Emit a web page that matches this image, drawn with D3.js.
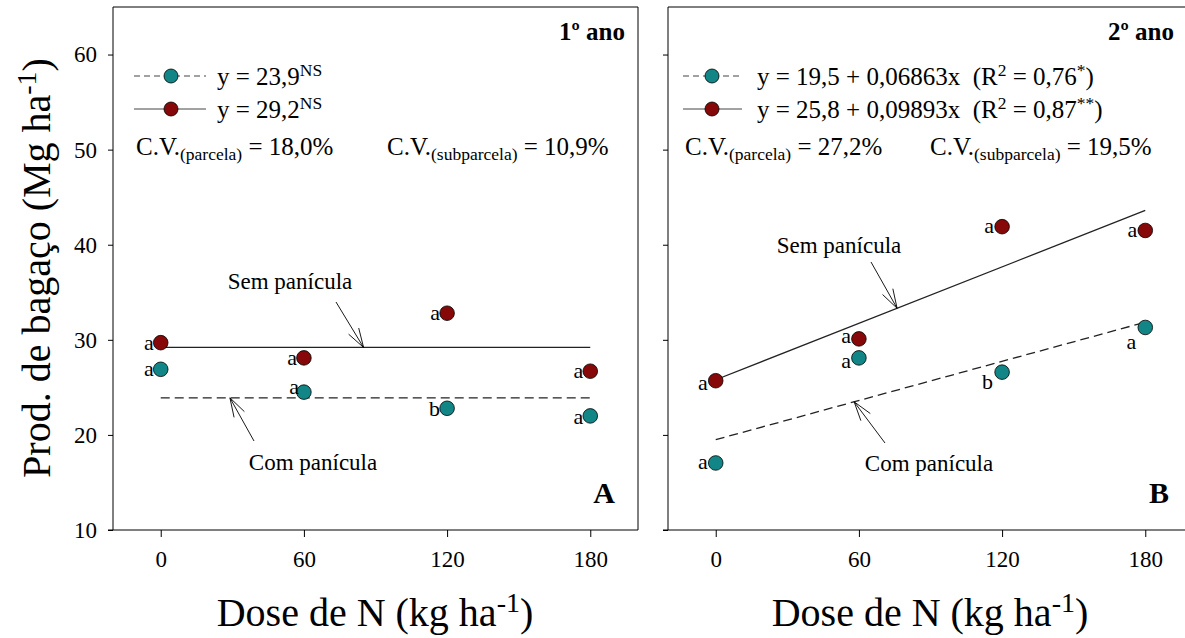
<!DOCTYPE html>
<html lang="pt">
<head>
<meta charset="utf-8">
<script src="https://cdn.jsdelivr.net/npm/d3@7"></script>
<style>
  body { margin: 0; background: #fff; }
  .axis path, .axis line { stroke: #000; stroke-width: 1; }
</style>
</head>
<body>
<div id="chart"></div>
<script>
// --- data ---
const doses = [0, 60, 120, 180]
const xTicks = [0, 60, 120, 180]
const yTicks = [10, 20, 30, 40, 50, 60]

// 1º ano
const semAno1 = [29.7, 28.1, 32.8, 26.7]
const comAno1 = [26.9, 24.5, 22.8, 22.0]
const semLetrasAno1 = ['a', 'a', 'a', 'a']
const comLetrasAno1 = ['a', 'a', 'b', 'a']
const fitSemAno1 = [29.2, 0]      // intercept, slope
const fitComAno1 = [23.9, 0]

// 2º ano
const semAno2 = [25.7, 30.1, 41.9, 41.5]
const comAno2 = [17.05, 28.1, 26.6, 31.3]
const semLetrasAno2 = ['a', 'a', 'a', 'a']
const comLetrasAno2 = ['a', 'a', 'b', 'a']
const fitSemAno2 = [25.8, 0.09893]
const fitComAno2 = [19.5, 0.06863]

const teal = '#128686'
const red = '#870808'
const serif = "'Liberation Serif'"

let w = 1185
let h = 638

let svg = d3.select('#chart').append('svg')
    .attr('width', w)
    .attr('height', h)
    .style('font-family', serif)

let yScale = d3.scaleLinear().domain([10, 65]).range([530, 7])

function addSup(textSel, parts) {
    // parts: [[text, 'n'|'sup'|'sub'], ...]
    parts.forEach(function(p) {
        let t = textSel.append('tspan').text(p[0])
        if (p[1] === 'sup') t.attr('baseline-shift', '50%').attr('font-size', '70%')
        if (p[1] === 'sub') t.attr('baseline-shift', '-30%').attr('font-size', '70%')
    })
}

function drawPanel(cfg) {
    let xScale = d3.scaleLinear().domain([-20, 200]).range([cfg.left, cfg.left + 525])
    let g = svg.append('g')

    // frame
    g.append('line').attr('x1', cfg.left).attr('x2', cfg.left + 525)
        .attr('y1', yScale(65)).attr('y2', yScale(65)).attr('stroke', '#000')
    g.append('line').attr('x1', cfg.left + 525).attr('x2', cfg.left + 525)
        .attr('y1', yScale(65)).attr('y2', yScale(10)).attr('stroke', '#000')

    let yAxis = d3.axisLeft(yScale).tickValues(yTicks).tickSize(5).tickPadding(11)
        .tickFormat(cfg.yLabels ? d3.format('d') : '')
    g.append('g').attr('class', 'axis')
        .attr('transform', 'translate(' + cfg.left + ',0)')
        .call(yAxis)
        .attr('font-family', null).attr('font-size', null)
        .style('font-family', serif).style('font-size', '23px')
        .call(s => s.select('.domain').attr('d', 'M0,' + yScale(65) + 'V' + yScale(10)))

    let xAxis = d3.axisBottom(xScale).tickValues(xTicks).tickSize(7).tickPadding(14)
    g.append('g').attr('class', 'axis')
        .attr('transform', 'translate(0,' + yScale(10) + ')')
        .call(xAxis)
        .attr('font-family', null).attr('font-size', null)
        .style('font-family', serif).style('font-size', '23px')
        .call(s => s.select('.domain').attr('d', 'M' + (cfg.left - 5) + ',0H' + (cfg.left + 525)))

    // regression lines
    let line = d3.line().x(d => xScale(d[0])).y(d => yScale(d[1]))
    let ends = [doses[0], doses[doses.length - 1]]
    g.append('path')
        .datum(ends.map(x => [x, cfg.fitSem[0] + cfg.fitSem[1] * x]))
        .attr('d', line).attr('fill', 'none').attr('stroke', '#222').attr('stroke-width', 1.3)
    g.append('path')
        .datum(ends.map(x => [x, cfg.fitCom[0] + cfg.fitCom[1] * x]))
        .attr('d', line).attr('fill', 'none').attr('stroke', '#222').attr('stroke-width', 1.3)
        .attr('stroke-dasharray', '9,5')

    // points
    let series = [
        {vals: cfg.com, letras: cfg.comLetras, color: teal, off: cfg.comOff},
        {vals: cfg.sem, letras: cfg.semLetras, color: red, off: cfg.semOff}
    ]
    series.forEach(function(s) {
        g.selectAll(null).data(s.vals).enter().append('circle')
            .attr('cx', (d, i) => xScale(doses[i]))
            .attr('cy', d => yScale(d))
            .attr('r', 7.3)
            .attr('fill', s.color).attr('stroke', '#000').attr('stroke-width', 0.8)
        g.selectAll(null).data(s.vals).enter().append('text')
            .attr('x', (d, i) => xScale(doses[i]) + s.off[i][0])
            .attr('y', (d, i) => yScale(d) + s.off[i][1])
            .attr('text-anchor', 'end')
            .attr('font-size', 22)
            .text((d, i) => s.letras[i])
    })

    // arrows with labels
    cfg.arrows.forEach(function(a) {
        let x1 = a.from[0], y1 = a.from[1]
        let x2 = xScale(a.at), y2 = yScale(a.fit[0] + a.fit[1] * a.at)
        g.append('line').attr('x1', x1).attr('y1', y1).attr('x2', x2).attr('y2', y2)
            .attr('stroke', '#000').attr('stroke-width', 0.9)
        let ang = Math.atan2(y1 - y2, x1 - x2)
        ;[-0.3, 0.3].forEach(function(da) {
            g.append('line').attr('x1', x2).attr('y1', y2)
                .attr('x2', x2 + 20 * Math.cos(ang + da))
                .attr('y2', y2 + 20 * Math.sin(ang + da))
                .attr('stroke', '#000').attr('stroke-width', 0.9)
        })
        g.append('text').attr('x', a.label[0]).attr('y', a.label[1])
            .attr('text-anchor', 'middle').attr('font-size', 23).text(a.text)
    })

    // legend
    let ly = 76
    let leg = [
        {color: teal, dash: '6,4', parts: cfg.legCom, y: ly},
        {color: red, dash: null, parts: cfg.legSem, y: ly + 33}
    ]
    leg.forEach(function(l) {
        let ln = g.append('line').attr('x1', cfg.legLine[0]).attr('x2', cfg.legLine[1])
            .attr('y1', l.y).attr('y2', l.y).attr('stroke', '#444').attr('stroke-width', 1)
        if (l.dash) ln.attr('stroke-dasharray', l.dash)
        g.append('circle').attr('cx', cfg.legLine[2]).attr('cy', l.y).attr('r', 7)
            .attr('fill', l.color).attr('stroke', '#000').attr('stroke-width', 0.8)
        let t = g.append('text').attr('x', cfg.legLine[3]).attr('y', l.y + 9)
            .attr('font-size', 25)
        addSup(t, l.parts)
    })
    cfg.cv.forEach(function(c) {
        let t = g.append('text').attr('x', c.x).attr('y', 155).attr('font-size', 25)
        addSup(t, [['C.V.', 'n'], ['(' + c.kind + ')', 'sub'], [' = ' + c.val, 'n']])
    })

    g.append('text').attr('x', cfg.titleX).attr('y', 40).attr('text-anchor', 'end')
        .attr('font-size', 25).attr('font-weight', 'bold').text(cfg.title)
    g.append('text').attr('x', cfg.tagX).attr('y', 503).attr('text-anchor', 'end')
        .attr('font-size', 30).attr('font-weight', 'bold').text(cfg.tag)

    // x title
    let xt = g.append('text').attr('x', cfg.left + 262).attr('y', 626)
        .attr('text-anchor', 'middle').attr('font-size', 40)
    addSup(xt, [['Dose de N (kg ha', 'n'], ['-1', 'sup'], [')', 'n']])
}

drawPanel({
    left: 113, yLabels: true, title: '1º ano', tag: 'A', titleX: 625, tagX: 615,
    sem: semAno1, com: comAno1, semLetras: semLetrasAno1, comLetras: comLetrasAno1,
    fitSem: fitSemAno1, fitCom: fitComAno1,
    semOff: [[-7, 7], [-7, 7], [-7, 7], [-7, 7]],
    comOff: [[-7, 7], [-5, 2], [-7, 8], [-7, 8]],
    arrows: [
        {text: 'Sem panícula', from: [336, 302], at: 85, fit: fitSemAno1, label: [290, 289]},
        {text: 'Com panícula', from: [254, 441], at: 29, fit: fitComAno1, label: [313, 470]}
    ],
    legLine: [134, 206, 171, 217],
    legCom: [['y = 23,9', 'n'], ['NS', 'sup']],
    legSem: [['y = 29,2', 'n'], ['NS', 'sup']],
    cv: [{x: 136, kind: 'parcela', val: '18,0%'}, {x: 387, kind: 'subparcela', val: '10,9%'}]
})

drawPanel({
    left: 668, yLabels: false, title: '2º ano', tag: 'B', titleX: 1174, tagX: 1169,
    sem: semAno2, com: comAno2, semLetras: semLetrasAno2, comLetras: comLetrasAno2,
    fitSem: fitSemAno2, fitCom: fitComAno2,
    semOff: [[-8, 9], [-8, 4], [-8, 6], [-8, 7]],
    comOff: [[-8, 6], [-8, 10], [-9, 17], [-9, 22]],
    arrows: [
        {text: 'Sem panícula', from: [871, 262], at: 76, fit: fitSemAno2, label: [839, 253]},
        {text: 'Com panícula', from: [885, 443], at: 58, fit: fitComAno2, label: [929, 471]}
    ],
    legLine: [683, 742, 712, 757],
    legCom: [['y = 19,5 + 0,06863x\u00a0\u00a0(R', 'n'], ['2', 'sup'], [' = 0,76', 'n'], ['*', 'sup'], [')', 'n']],
    legSem: [['y = 25,8 + 0,09893x\u00a0\u00a0(R', 'n'], ['2', 'sup'], [' = 0,87', 'n'], ['**', 'sup'], [')', 'n']],
    cv: [{x: 685, kind: 'parcela', val: '27,2%'}, {x: 930, kind: 'subparcela', val: '19,5%'}]
})

// y title
let yt = svg.append('text')
    .attr('transform', 'translate(50,268) rotate(-90)')
    .attr('text-anchor', 'middle').attr('font-size', 40)
addSup(yt, [['Prod. de bagaço (Mg ha', 'n'], ['-1', 'sup'], [')', 'n']])
</script>
</body>
</html>
